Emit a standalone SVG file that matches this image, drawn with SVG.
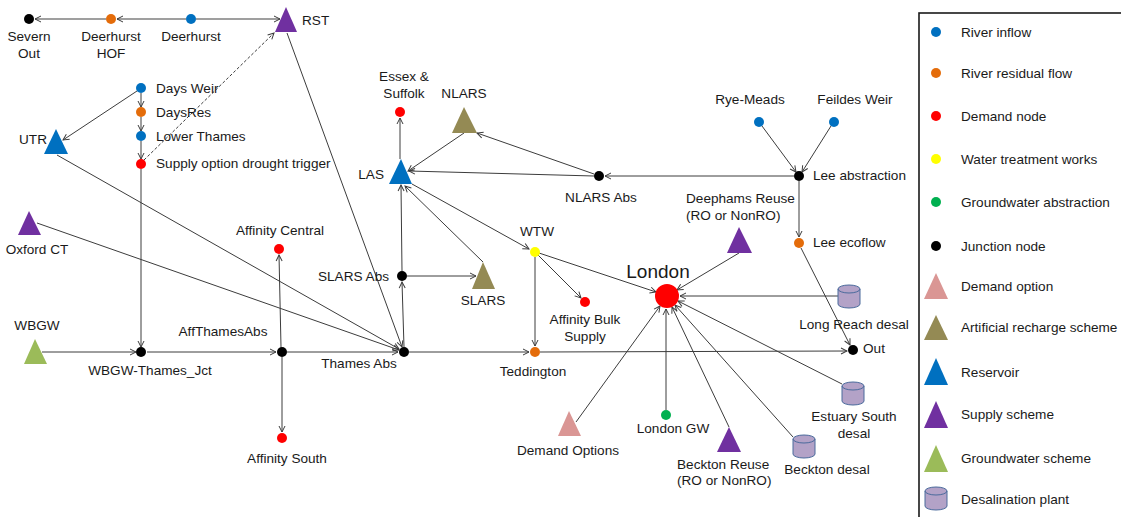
<svg xmlns="http://www.w3.org/2000/svg" width="1121" height="517" viewBox="0 0 1121 517">
  <style>
    text { font-family: "Liberation Sans", Arial, sans-serif; font-size: 13.6px; fill: #1a1a1a; }
    .mid { text-anchor: middle; }
    .end { text-anchor: end; }
    .big { font-size: 19px; }
    .edge { stroke: #3c3c3c; stroke-width: 1; fill: none; marker-end: url(#arrow); }
    .edge-top { stroke: #7f7f7f; stroke-width: 1.6; fill: none; marker-end: url(#arrow); }
    .dash { stroke-dasharray: 3 2; }
    .inflow { fill: #0070C0; }
    .residual { fill: #E46C0A; }
    .demand { fill: #FF0000; }
    .wtw { fill: #FFFF00; }
    .gwabs { fill: #00B050; }
    .junction { fill: #000000; }
    .demopt { fill: #DA9694; }
    .recharge { fill: #948A54; }
    .reservoir { fill: #0070C0; }
    .supply { fill: #7030A0; }
    .gwscheme { fill: #9BBB59; }
    .desal { fill: #B3A2C7; stroke: #4A6A9C; stroke-width: 1; }
    .rim { fill: none; stroke: #4A6A9C; stroke-width: 1; }
  </style>
  <defs>
    <marker id="arrow" markerUnits="userSpaceOnUse" markerWidth="8" markerHeight="8" viewBox="0 0 8 8" refX="7" refY="4" orient="auto">
      <path d="M1,1 L7,4 L1,7" fill="none" stroke="#3c3c3c" stroke-width="1"/>
    </marker>
    <!-- desalination cylinder body, 22 x 23 -->
    <path id="cyl" d="M0,4 A11,4 0 0 1 22,4 L22,19 A11,4 0 0 1 0,19 Z"/>
  </defs>

  <rect width="1121" height="517" fill="#ffffff"/>

  <!-- connectors -->
  <g id="connectors">
    <line class="edge-top" x1="186" y1="19" x2="117" y2="19"/>
    <line class="edge-top" x1="106" y1="19" x2="35" y2="19"/>
    <line class="edge-top" x1="196" y1="19" x2="280" y2="19"/>

    <line class="edge" x1="141" y1="93" x2="141" y2="107"/>
    <line class="edge" x1="141" y1="117" x2="141" y2="131"/>
    <line class="edge" x1="141" y1="141" x2="141" y2="159"/>
    <line class="edge" x1="141" y1="169" x2="141" y2="347"/>
    <line class="edge dash" x1="144" y1="160" x2="274" y2="33"/>
    <line class="edge" x1="137" y1="91" x2="63" y2="140"/>
    <line class="edge" x1="57" y1="155" x2="399" y2="349"/>
    <line class="edge" x1="287" y1="33" x2="402" y2="347"/>
    <line class="edge" x1="37" y1="223" x2="399" y2="350"/>
    <line class="edge" x1="42" y1="352" x2="136" y2="352"/>
    <line class="edge" x1="147" y1="352" x2="276" y2="352"/>
    <line class="edge" x1="281" y1="347" x2="279" y2="255"/>
    <line class="edge" x1="282" y1="357" x2="282" y2="432"/>
    <line class="edge" x1="287" y1="352" x2="398" y2="352"/>
    <line class="edge" x1="404" y1="347" x2="402" y2="282"/>
    <line class="edge" x1="409" y1="352" x2="529" y2="352"/>
    <line class="edge" x1="402" y1="271" x2="401" y2="185"/>
    <line class="edge" x1="407" y1="276" x2="476" y2="276"/>
    <line class="edge" x1="483" y1="262" x2="405" y2="186"/>
    <line class="edge" x1="400" y1="159" x2="400" y2="118"/>
    <line class="edge" x1="464" y1="133" x2="408" y2="171"/>
    <line class="edge" x1="594" y1="174" x2="477" y2="133"/>
    <line class="edge" x1="594" y1="176" x2="409" y2="171"/>
    <line class="edge" x1="794" y1="176" x2="605" y2="176"/>
    <line class="edge" x1="412" y1="184" x2="529" y2="249"/>
    <line class="edge" x1="539" y1="253" x2="656" y2="292"/>
    <line class="edge" x1="538" y1="255" x2="581" y2="298"/>
    <line class="edge" x1="535" y1="257" x2="535" y2="346"/>
    <line class="edge" x1="540" y1="352" x2="847" y2="351"/>
    <line class="edge" x1="739" y1="253" x2="677" y2="290"/>
    <line class="edge" x1="838" y1="296" x2="680" y2="296"/>
    <line class="edge" x1="842" y1="384" x2="678" y2="301"/>
    <line class="edge" x1="793" y1="437" x2="675" y2="305"/>
    <line class="edge" x1="729" y1="427" x2="672" y2="307"/>
    <line class="edge" x1="666" y1="410" x2="666" y2="309"/>
    <line class="edge" x1="576" y1="422" x2="660" y2="306"/>
    <line class="edge" x1="762" y1="126" x2="796" y2="172"/>
    <line class="edge" x1="831" y1="126" x2="802" y2="172"/>
    <line class="edge" x1="799" y1="181" x2="799" y2="237"/>
    <line class="edge" x1="801" y1="248" x2="850" y2="345"/>
  </g>

  <!-- nodes -->
  <g id="severn-out"><circle class="junction" cx="29" cy="19" r="5"/><text class="mid" x="29" y="41">Severn</text><text class="mid" x="29" y="58">Out</text></g>
  <g id="deerhurst-hof"><circle class="residual" cx="111" cy="19" r="5"/><text class="mid" x="111" y="41">Deerhurst</text><text class="mid" x="111" y="58">HOF</text></g>
  <g id="deerhurst"><circle class="inflow" cx="191" cy="19" r="5"/><text class="mid" x="191" y="41">Deerhurst</text></g>
  <g id="rst"><polygon class="supply" points="286,7 297,32 275,32"/><text x="302" y="25">RST</text></g>

  <g id="days-weir"><circle class="inflow" cx="141" cy="88" r="5"/><text x="156" y="93">Days Weir</text></g>
  <g id="days-res"><circle class="residual" cx="141" cy="112" r="5"/><text x="156" y="117">DaysRes</text></g>
  <g id="lower-thames"><circle class="inflow" cx="141" cy="136" r="5"/><text x="156" y="141">Lower Thames</text></g>
  <g id="drought-trigger"><circle class="demand" cx="141" cy="164" r="5"/><text x="156" y="168">Supply option drought trigger</text></g>
  <g id="utr"><polygon class="reservoir" points="56,129 68,154 44,154"/><text class="end" x="47" y="144">UTR</text></g>
  <g id="oxford-ct"><polygon class="supply" points="29,211 41,235 18,235"/><text class="mid" x="37" y="254">Oxford CT</text></g>
  <g id="wbgw"><polygon class="gwscheme" points="35,339 47,364 24,364"/><text class="mid" x="37" y="330">WBGW</text></g>
  <g id="wbgw-thames-jct"><circle class="junction" cx="141" cy="352" r="5"/><text class="mid" x="150" y="375">WBGW-Thames_Jct</text></g>
  <g id="aff-thames-abs"><circle class="junction" cx="282" cy="352" r="5"/><text class="mid" x="223" y="336">AffThamesAbs</text></g>
  <g id="affinity-central"><circle class="demand" cx="279" cy="249" r="5"/><text class="mid" x="280" y="235">Affinity Central</text></g>
  <g id="affinity-south"><circle class="demand" cx="282" cy="438" r="5"/><text class="mid" x="287" y="463">Affinity South</text></g>
  <g id="thames-abs"><circle class="junction" cx="404" cy="352" r="5"/><text class="mid" x="359" y="368">Thames Abs</text></g>
  <g id="slars-abs"><circle class="junction" cx="402" cy="276" r="5"/><text class="end" x="389" y="281">SLARS Abs</text></g>
  <g id="slars"><polygon class="recharge" points="483,262 495,289 472,289"/><text class="mid" x="483" y="305">SLARS</text></g>
  <g id="las"><polygon class="reservoir" points="401,159 412,184 389,184"/><text class="end" x="384" y="179">LAS</text></g>
  <g id="essex-suffolk"><circle class="demand" cx="400" cy="112" r="5"/><text class="mid" x="404" y="81">Essex &amp;</text><text class="mid" x="404" y="98">Suffolk</text></g>
  <g id="nlars"><polygon class="recharge" points="464,107 477,133 452,133"/><text class="mid" x="464" y="98">NLARS</text></g>
  <g id="nlars-abs"><circle class="junction" cx="599" cy="176" r="5"/><text class="mid" x="601" y="202">NLARS Abs</text></g>
  <g id="wtw"><circle class="wtw" cx="535" cy="252" r="5"/><text class="mid" x="537" y="236">WTW</text></g>
  <g id="affinity-bulk"><circle class="demand" cx="585" cy="302" r="5"/><text class="mid" x="585" y="324">Affinity Bulk</text><text class="mid" x="585" y="341">Supply</text></g>
  <g id="teddington"><circle class="residual" cx="535" cy="352" r="5"/><text class="mid" x="533" y="376">Teddington</text></g>
  <g id="london"><circle class="demand" cx="667" cy="296" r="12"/><text class="mid big" x="658" y="278">London</text></g>
  <g id="deephams"><polygon class="supply" points="739,227 752,253 727,253"/><text x="686" y="203">Deephams Reuse</text><text x="686" y="220">(RO or NonRO)</text></g>
  <g id="rye-meads"><circle class="inflow" cx="759" cy="122" r="5"/><text class="mid" x="750" y="104">Rye-Meads</text></g>
  <g id="feildes-weir"><circle class="inflow" cx="834" cy="122" r="5"/><text class="mid" x="855" y="104">Feildes Weir</text></g>
  <g id="lee-abstraction"><circle class="junction" cx="799" cy="176" r="5"/><text x="813" y="180">Lee abstraction</text></g>
  <g id="lee-ecoflow"><circle class="residual" cx="799" cy="243" r="5"/><text x="813" y="247">Lee ecoflow</text></g>
  <g id="out"><circle class="junction" cx="853" cy="350" r="5"/><text x="863" y="353">Out</text></g>
  <g id="long-reach"><use href="#cyl" class="desal" x="838" y="285"/><path class="rim" d="M838,289 A11,4 0 0 0 860,289"/><text class="mid" x="854" y="329">Long Reach desal</text></g>
  <g id="estuary-south"><use href="#cyl" class="desal" x="842" y="382"/><path class="rim" d="M842,386 A11,4 0 0 0 864,386"/><text class="mid" x="854" y="421">Estuary South</text><text class="mid" x="854" y="438">desal</text></g>
  <g id="beckton-desal"><use href="#cyl" class="desal" x="793" y="435"/><path class="rim" d="M793,439 A11,4 0 0 0 815,439"/><text class="mid" x="827" y="474">Beckton desal</text></g>
  <g id="beckton-reuse"><polygon class="supply" points="729,427 741,452 717,452"/><text x="677" y="469">Beckton Reuse</text><text x="677" y="485">(RO or NonRO)</text></g>
  <g id="london-gw"><circle class="gwabs" cx="666" cy="415" r="5"/><text class="mid" x="673" y="433">London GW</text></g>
  <g id="demand-options"><polygon class="demopt" points="569,411 581,436 558,436"/><text class="mid" x="568" y="455">Demand Options</text></g>

  <!-- key -->
  <g id="legend">
    <rect x="919" y="13" width="210" height="510" fill="none" stroke="#1a1a1a" stroke-width="1.6"/>
    <circle class="inflow" cx="936" cy="32" r="5"/><text x="961" y="37">River inflow</text>
    <circle class="residual" cx="936" cy="73" r="5"/><text x="961" y="78">River residual flow</text>
    <circle class="demand" cx="936" cy="116" r="5"/><text x="961" y="121">Demand node</text>
    <circle class="wtw" cx="936" cy="159" r="5"/><text x="961" y="164">Water treatment works</text>
    <circle class="gwabs" cx="936" cy="202" r="5"/><text x="961" y="207">Groundwater abstraction</text>
    <circle class="junction" cx="936" cy="246" r="5"/><text x="961" y="251">Junction node</text>
    <polygon class="demopt" points="936,273 948,299 924,299"/><text x="961" y="291">Demand option</text>
    <polygon class="recharge" points="936,315 948,340 924,340"/><text x="961" y="332">Artificial recharge scheme</text>
    <polygon class="reservoir" points="936,358 948,385 924,385"/><text x="961" y="377">Reservoir</text>
    <polygon class="supply" points="936,401 948,428 924,428"/><text x="961" y="419">Supply scheme</text>
    <polygon class="gwscheme" points="936,445 948,472 924,472"/><text x="961" y="463">Groundwater scheme</text>
    <use href="#cyl" class="desal" x="925" y="487"/><path class="rim" d="M925,491 A11,4 0 0 0 947,491"/><text x="961" y="504">Desalination plant</text>
  </g>
</svg>
